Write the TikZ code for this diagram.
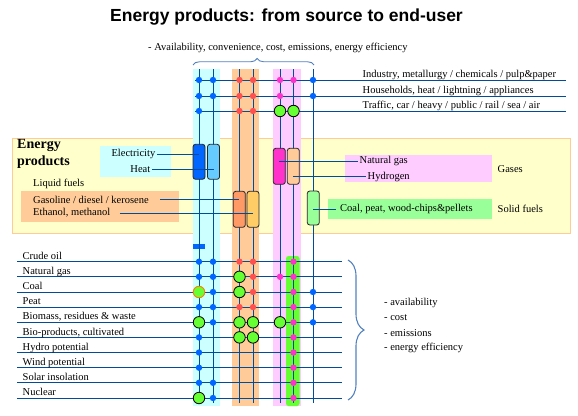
\documentclass[tikz,border=0pt]{standalone}
\usepackage{fontspec}
\setmainfont{Liberation Serif}
\newfontfamily\titlefont{Liberation Sans}
\usetikzlibrary{decorations.pathreplacing}
\definecolor{ln}{RGB}{0,76,153}
\definecolor{stripC}{RGB}{204,255,255}
\definecolor{stripO}{RGB}{255,204,153}
\definecolor{stripP}{RGB}{255,204,255}
\definecolor{boxY}{RGB}{255,255,204}
\definecolor{boxYb}{RGB}{255,204,153}
\definecolor{cBlue}{RGB}{0,102,255}
\definecolor{cRed}{RGB}{255,80,80}
\definecolor{cMag}{RGB}{255,51,204}
\definecolor{cGreen}{RGB}{102,255,51}
\definecolor{cLBlue}{RGB}{102,204,255}
\definecolor{cOr1}{RGB}{255,153,102}
\definecolor{cOr2}{RGB}{255,204,102}
\definecolor{cPeach}{RGB}{255,204,153}
\definecolor{cLGreen}{RGB}{153,255,153}
\definecolor{braceC}{RGB}{84,130,190}
\begin{document}
\begin{tikzpicture}[x=1pt,y=-1pt,
  lbl/.style={font=\fontsize{10.5}{12}\selectfont, inner sep=1.5pt},
  vline/.style={draw=ln, line width=1pt},
  conn/.style={draw=ln, line width=1pt},
  sdot/.style={circle, fill=#1, inner sep=0pt, minimum size=6.4pt},
  dB/.style={sdot=cBlue}, dR/.style={sdot=cRed}, dM/.style={sdot=cMag},
  dG/.style={circle, fill=cGreen, draw=black, line width=0.8pt, inner sep=0pt, minimum size=11.5pt},
  dO/.style={circle, fill=cGreen, draw=orange, line width=0.9pt, inner sep=0pt, minimum size=11.5pt},
  prod/.style={rectangle, rounded corners=2.5pt, draw=black!85, line width=0.8pt, minimum width=12pt, inner sep=0pt, fill=#1},
  strip/.style={fill=#1, draw=none},
  lblbox/.style={fill=#1, draw=none}
]
\useasboundingbox (0,0) rectangle (578,415);

% title
\node[font=\titlefont\bfseries\fontsize{17.5}{20}\selectfont] (title) at (286.5,17) {Energy products: from source to end-user};

% energy products box
\node[draw=boxYb, fill=boxY, line width=0.9pt, minimum width=558pt, minimum height=95pt, inner sep=0pt, anchor=north west] (epbox) at (12,138) {};

% strips
\fill[strip=stripC] (192.5,69) rectangle (220,406);
\fill[strip=stripO] (231.5,69) rectangle (259,406);
\fill[strip=stripP] (273,69) rectangle (300.5,406);
\fill[strip=cGreen, rounded corners=2.5pt] (286,256) rectangle (299.5,406);
\node[fill=cBlue, inner sep=0pt, minimum width=12pt, minimum height=5pt] (bmark) at (199,246.5) {};

% label boxes
\fill[lblbox=stripC] (100,146) rectangle (171,177);
\fill[lblbox=stripO] (21,191) rectangle (179,222);
\fill[lblbox=stripP] (345,155) rectangle (492,182);
\fill[lblbox=cLGreen] (328,199) rectangle (492,219);

% column coordinates and vertical lines
\foreach \c/\x in {B1/199,B2/213,O1/239.5,O2/253,P1/280,P2/293.5,S/313}{
  \coordinate (t\c) at (\x,69);
  \coordinate (b\c) at (\x,403);
  \draw[vline] (t\c) -- (b\c);
}

% top rows (end-users)
\foreach \r/\y/\t in {T1/80/{Industry, metallurgy / chemicals / pulp\&paper},
                      T2/96/{Households, heat / lightning / appliances},
                      T3/111/{Traffic, car / heavy / public / rail / sea / air}}{
  \coordinate (\r) at (195,\y);
  \coordinate (\r e) at (566,\y);
  \draw[vline] (\r) -- (\r e);
  \node[lbl, anchor=base west] (lab\r) at (361,\y-2.3) {\t};
}

% bottom rows (sources)
\foreach \r/\y/\t in {R1/261.7/Crude oil, R2/276.8/Natural gas, R3/292/Coal, R4/307.1/Peat,
   R5/322.3/{Biomass, residues \& waste}, R6/337.4/{Bio-products, cultivated},
   R7/352.5/Hydro potential, R8/367.7/Wind potential, R9/382.8/Solar insolation, R10/398/Nuclear}{
  \coordinate (\r) at (17,\y);
  \coordinate (\r e) at (342,\y);
  \draw[vline] (\r) -- (\r e);
  \node[lbl, anchor=base west] (lab\r) at (21,\y-2.4) {\t};
}

% product rectangles
\node[prod=cBlue, minimum height=35pt] (rB1) at (199,161.8) {};
\node[prod=cLBlue, minimum height=35pt] (rB2) at (213.5,161.8) {};
\node[prod=cOr1, minimum height=36pt] (rO1) at (239.3,209.3) {};
\node[prod=cOr2, minimum height=36pt] (rO2) at (253,209.3) {};
\node[prod=cMag, minimum height=36pt] (rP1) at (279.3,166.3) {};
\node[prod=cPeach, minimum height=36pt] (rP2) at (293.3,166.3) {};
\node[prod=cLGreen, minimum height=34pt] (rS) at (313.3,208) {};

% energy product labels
\node[anchor=west, align=left, font=\bfseries\fontsize{14}{17}\selectfont, inner sep=0pt] (eplab) at (17,153.5) {Energy\\products};
\node[lbl, anchor=east] (elec) at (157,154) {Electricity};
\node[lbl, anchor=east] (heat) at (152,169) {Heat};
\node[lbl, anchor=west] (liq) at (31.5,184) {Liquid fuels};
\node[lbl, anchor=west] (gas) at (31.5,199.5) {Gasoline / diesel / kerosene};
\node[lbl, anchor=west] (eth) at (31.5,213) {Ethanol, methanol};
\node[lbl, anchor=west] (ng) at (358,161) {Natural gas};
\node[lbl, anchor=west] (hyd) at (366,176.5) {Hydrogen};
\node[lbl, anchor=west] (coal) at (338.5,209) {Coal, peat, wood-chips\&pellets};
\node[lbl, anchor=west] (gases) at (496,169.3) {Gases};
\node[lbl, anchor=west] (solid) at (496,209) {Solid fuels};

% connectors
\draw[conn] (elec.east) -- (elec.east -| rB1);
\draw[conn] (heat.east) -- (heat.east -| rB2);
\draw[conn, shorten <=10pt] (gas.east) -- (gas.east -| rO1);
\draw[conn, shorten <=8pt] (eth.east) -- (eth.east -| rO2);
\draw[conn] (ng.west -| rP1) -- (ng.west);
\draw[conn] (hyd.west -| rP2) -- (hyd.west);
\draw[conn, shorten >=3pt] (coal.west -| rS) -- (coal.west);

% dots
\foreach \r/\c/\s in {T1/B1/dB,T1/B2/dB,T1/O1/dR,T1/O2/dR,T1/P1/dM,T1/P2/dM,T1/S/dB,
  T2/B1/dB,T2/B2/dB,T2/O1/dR,T2/O2/dR,T2/P1/dM,T2/S/dB,
  T3/B1/dB,T3/O1/dR,T3/O2/dR,T3/P1/dG,T3/P2/dG,
  R1/B1/dB,R1/B2/dB,R1/O1/dR,R1/O2/dR,R1/P2/dM,
  R2/B1/dB,R2/B2/dB,R2/O1/dG,R2/O2/dR,R2/P1/dM,R2/P2/dM,
  R3/B1/dO,R3/B2/dB,R3/O1/dG,R3/O2/dR,R3/P2/dM,R3/S/dB,
  R4/B1/dB,R4/B2/dB,R4/O1/dR,R4/O2/dR,R4/P2/dM,R4/S/dB,
  R5/B1/dG,R5/B2/dB,R5/O1/dG,R5/O2/dG,R5/P1/dG,R5/P2/dM,R5/S/dB,
  R6/B1/dB,R6/O1/dG,R6/O2/dG,R6/P2/dM,
  R7/B1/dB,R7/P2/dM,
  R8/B1/dB,R8/P2/dM,
  R9/B1/dB,R9/B2/dB,R9/P2/dM,
  R10/B1/dG,R10/B2/dB,R10/P2/dM}{
  \node[\s] (d\r\c) at (t\c |- \r) {};
}

% top brace
\coordinate (brL) at (193,65);
\coordinate (brR) at (314,65);
\draw[braceC, line width=0.9pt, decorate, decoration={brace, amplitude=6.5pt, aspect=0.53}] (brL) -- (brR);
\node[lbl, anchor=west] (crit) at (146.5,48) {- Availability, convenience, cost, emissions, energy efficiency};

% right brace
\coordinate (rbT) at (348,260);
\coordinate (rbB) at (348,400);
\draw[braceC, line width=1.1pt, decorate, decoration={brace, amplitude=16pt}] (rbT) -- (rbB);
\node[lbl, anchor=west] (c1) at (382.5,302.7) {- availability};
\node[lbl, anchor=west] (c2) at (382.5,318) {- cost};
\node[lbl, anchor=west] (c3) at (382.5,333.2) {- emissions};
\node[lbl, anchor=west] (c4) at (382.5,348.3) {- energy efficiency};
\end{tikzpicture}
\end{document}
